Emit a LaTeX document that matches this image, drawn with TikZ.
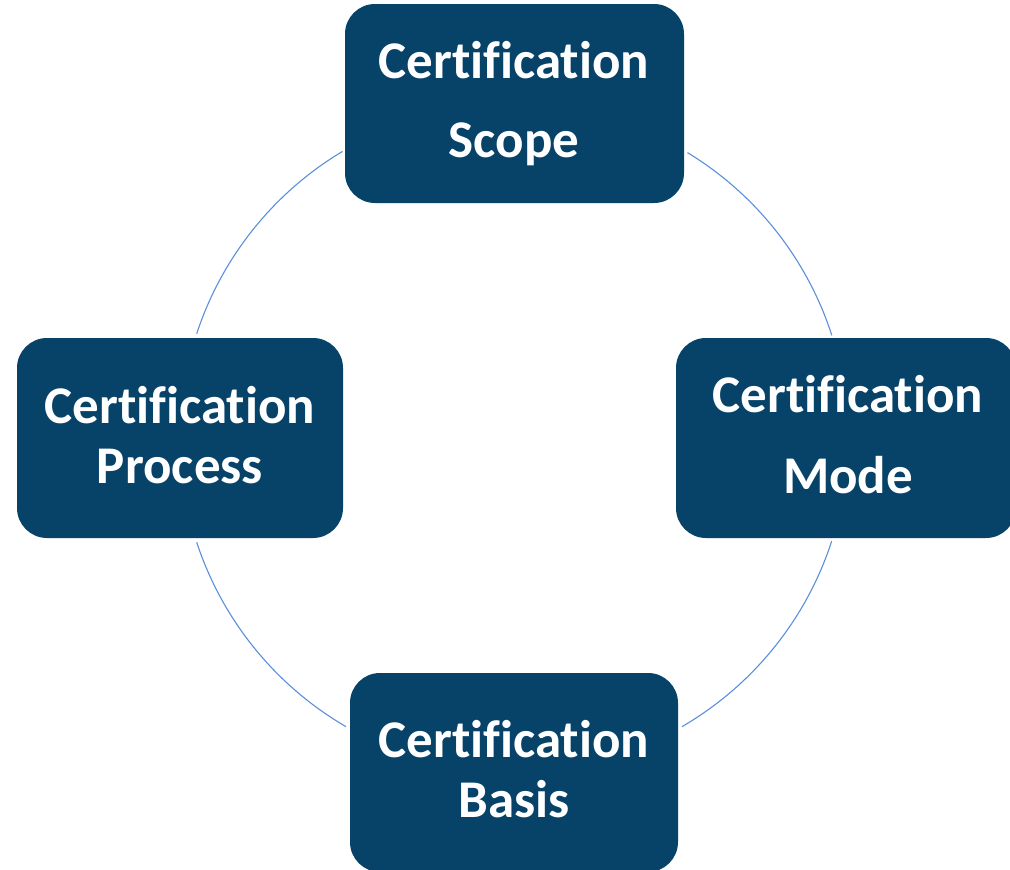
\documentclass[tikz,border=0pt]{standalone}
\usepackage{fontspec}
\setmainfont{Carlito}[Ligatures={NoCommon}]
\definecolor{boxblue}{HTML}{074369}
\definecolor{ringblue}{HTML}{5A8FDC}
\begin{document}
\begin{tikzpicture}[x=1pt,y=-1pt,
  box/.style={draw=none, fill=boxblue, rounded corners=30pt, inner sep=0pt},
  lbl/.style={text=white, font=\fontsize{53}{60}\selectfont\bfseries, anchor=base, inner sep=0pt},
  ring/.style={draw=ringblue, line width=1.1pt}]
\useasboundingbox (0,0) rectangle (1010,870);
\coordinate (c) at (514,438);
% arcs of the ring
\draw[ring] ([shift={(-120.9:334)}]c) arc[start angle=-120.9, end angle=-161.8, radius=334];
\draw[ring] ([shift={(-58.7:334)}]c) arc[start angle=-58.7, end angle=-17.9, radius=334];
\draw[ring] ([shift={(18:334)}]c) arc[start angle=18, end angle=59.8, radius=334];
\draw[ring] ([shift={(161.8:334)}]c) arc[start angle=161.8, end angle=120.2, radius=334];
% boxes
\node[box, minimum width=339pt, minimum height=199pt] (scope) at (514.5,103.5) {};
\node[box, minimum width=340pt, minimum height=200pt] (mode) at (846,438) {};
\node[box, minimum width=326pt, minimum height=200pt] (process) at (180,438) {};
\node[box, minimum width=328pt, minimum height=199pt] (basis) at (514,772.5) {};
% labels
\node[lbl] (scope1) at (514,78) {Certification};
\node[lbl] (scope2) at (514,157) {Scope};
\node[lbl] (mode1) at (848,412) {Certification};
\node[lbl] (mode2) at (848,493) {Mode};
\node[lbl] (process1) at (180,423) {Certification};
\node[lbl] (process2) at (180,483) {Process};
\node[lbl] (basis1) at (514,757) {Certification};
\node[lbl] (basis2) at (514,817) {Basis};
\end{tikzpicture}
\end{document}
